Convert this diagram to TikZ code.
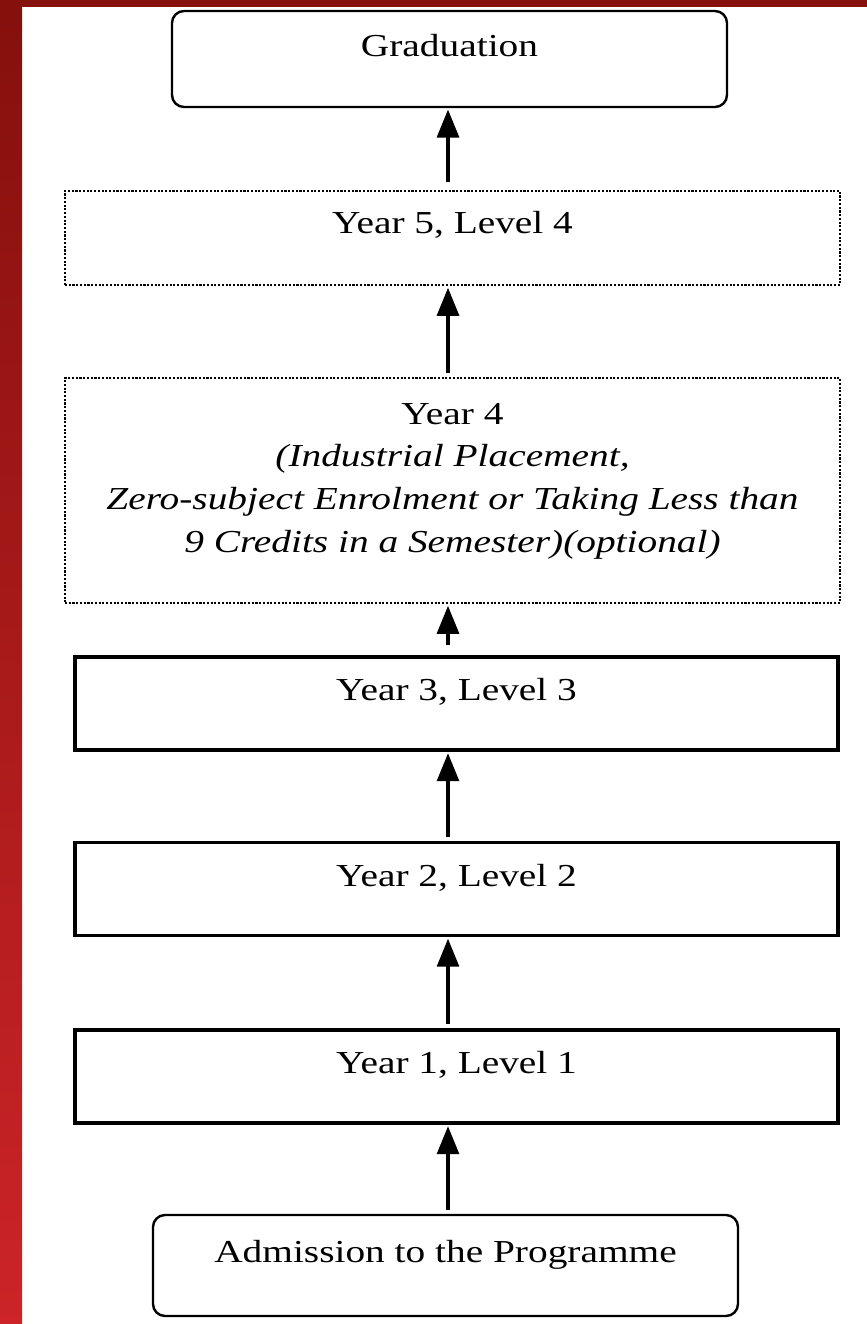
\documentclass[tikz,border=0pt]{standalone}
\usepackage{fontspec}
\setmainfont{Liberation Serif}[FakeStretch=1.23]
\usetikzlibrary{positioning,calc,arrows.meta}
\definecolor{stripdark}{HTML}{85100C}
\definecolor{striplight}{HTML}{CC2428}

\begin{document}
\begin{tikzpicture}[
			x=0.75pt, y=-0.75pt,
			font=\fontsize{24}{32}\selectfont,
			endbox/.style={rectangle, rounded corners=9pt, draw=black, line width=1.8pt, inner ysep=0pt},
			yearbox/.style={rectangle, draw=black, line width=2.6pt, minimum width=572.25pt, inner ysep=0pt, text height=33pt, text depth=37pt},
			optbox/.style={rectangle, draw=black, line width=2.2pt, dash pattern=on 1.6pt off 1.2pt, minimum width=581.25pt, inner ysep=0pt, align=center},
			flow/.style={-{Triangle[width=16.5pt,length=21pt]}, line width=2.3pt, shorten <=3pt, shorten >=1pt}
	]
	
		% page and coloured border
		\useasboundingbox (0,0) rectangle (867,1324);
		\fill[white] (0,0) rectangle (867,1324);
		\shade[top color=stripdark, bottom color=striplight] (0,0) rectangle (22,1324);
		\fill[stripdark] (0,0) rectangle (867,7);
		
		\node (grad) [endbox, minimum width=416.25pt, text height=33.75pt, text depth=38.25pt] at (449.5,59) {Graduation};
		\node (y5) [optbox, text height=31.5pt, text depth=39pt] at (452.5,238) {Year 5, Level 4};
		\node (y4) [optbox, text height=130.5pt, text depth=38.25pt] at (452.5,490.5) {Year 4\\ \textit{(Industrial Placement,}\\ \textit{Zero-subject Enrolment or Taking Less than}\\ \textit{9 Credits in a Semester)(optional)}};
		\node (y3) [yearbox] at (456.5,703.5) {Year 3, Level 3};
		\node (y2) [yearbox] at (456.5,889) {Year 2, Level 2};
		\node (y1) [yearbox] at (456.5,1076.5) {Year 1, Level 1};
		\node (adm) [endbox, minimum width=438.75pt, text height=35.25pt, text depth=40.5pt] at (445.5,1265.5) {Admission to the Programme};
		
		\coordinate (axis) at (448,0);
		
		\draw [flow] (adm.north -| axis) -- (y1.south -| axis);
		\draw [flow] (y1.north -| axis) -- (y2.south -| axis);
		\draw [flow] (y2.north -| axis) -- (y3.south -| axis);
		\draw [flow, shorten <=7.5pt] (y3.north -| axis) -- (y4.south -| axis);
		\draw [flow] (y4.north -| axis) -- (y5.south -| axis);
		\draw [flow, shorten <=6pt] (y5.north -| axis) -- (grad.south -| axis);
	\end{tikzpicture}
\end{document}
